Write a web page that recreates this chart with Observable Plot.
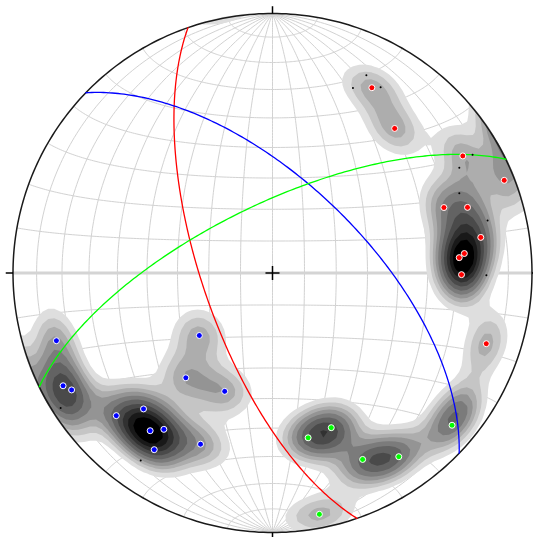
<!DOCTYPE html>
<html>
<head>
<meta charset="utf-8">
<script src="https://cdn.jsdelivr.net/npm/d3@7"></script>
<script src="https://cdn.jsdelivr.net/npm/@observablehq/plot@0.6"></script>
<style>
  html, body { margin: 0; padding: 0; background: #fff; }
  #chart { width: 533px; height: 537px; }
</style>
</head>
<body>
<div id="chart"></div>
<script>
// ---------- data (lower hemisphere, [trend°, plunge°]) ----------
const redPoles = [[28.2,20.1],[40.2,27.9],[58.4,15.0],[68.2,4.3],[69.1,30.0],[71.4,21.8],
                  [80.3,19.7],[84.2,26.6],[85.3,28.6],[90.5,28.0],[108.3,14.3]];
const bluePoles = [[252.6,13.8],[229.5,59.6],[219.6,46.5],[202.0,49.3],[241.7,9.2],[239.8,11.4],
                   [227.6,19.6],[223.5,28.6],[217.8,24.1],[214.8,27.5],[213.8,19.2],[202.8,29.2]];
const greenPoles = [[167.8,35.3],[159.2,36.4],[154.2,21.3],[145.5,15.2],[130.3,10.2],[169.0,5.9]];
const blackDots = [[23.5,23.3],[30.2,18.3],[25.4,16.8],[59.4,11.4],[60.6,18.5],[66.9,22.8],
                   [76.3,15.8],[90.6,18.7],[237.5,3.6],[215.1,12.7],[219.4,20.9]];
const densityCores = [[161.5,34.9],[150.1,17.9],[126.9,12.8],[219.4,20.9],[237.5,3.6],[86.8,27.9]];
// planes: [set, dip direction°, dip°]
const planes = [["red",251,68],["blue",44,61.5],["green",334,68.5]];
const compass = [0, 90, 180, 270];        // tick azimuths on the primitive
const gridStep = 10;                       // net spacing in degrees
const levels = [0.4, 0.65, 0.9, 1.15, 1.45, 1.8, 2.2, 2.6, 3.0, 3.4];

// ---------- styles ----------
const setColor = {red: "#ff0000", blue: "#0000ff", green: "#00ff00"};
const W = 533, H = 537, cx = 272, cy = 272.5, R = 259.5;

// ---------- equal-area (Schmidt) projection helpers ----------
const rad = Math.PI / 180;
function proj(east, north, down) {         // unit sphere vector -> unit disk
  const k = 1 / Math.sqrt(1 + down);
  return [east * k, north * k];
}
function vecTP(t, p) {
  return [Math.cos(p*rad)*Math.sin(t*rad), Math.cos(p*rad)*Math.cos(t*rad), Math.sin(p*rad)];
}
function lineXY(t, p) { const v = vecTP(t, p); return proj(v[0], v[1], v[2]); }
function lonlatXY(lon, lat) {
  const e = Math.cos(lat*rad)*Math.sin(lon*rad), n = Math.sin(lat*rad), d = Math.cos(lat*rad)*Math.cos(lon*rad);
  return proj(e, n, Math.max(d, 0));
}

// net grid
const grid = [], equator = [];
for (let lon = -90 + gridStep; lon < 90; lon += gridStep)
  for (let lat = -90; lat <= 90; lat += 1) { const [x, y] = lonlatXY(lon, lat); grid.push({id: "m" + lon, x, y}); }
for (let lat = -90 + gridStep; lat < 90; lat += gridStep) {
  if (lat === 0) continue;
  for (let lon = -90; lon <= 90; lon += 1) { const [x, y] = lonlatXY(lon, lat); grid.push({id: "p" + lat, x, y}); }
}
for (let lon = -90; lon <= 90; lon += 1) { const [x, y] = lonlatXY(lon, 0); equator.push({x, y}); }

// primitive circle & mask ring
const circle = d3.range(0, 361, 1).map(a => ({a}));
const ringW = 150, ringR = 1 + (ringW / 2) / R + 0.004;

// great circles
const gc = [];
for (const [set, dd, dip] of planes) {
  const s = vecTP(dd - 90, 0), d = vecTP(dd, dip);
  for (let t = 0; t <= 180; t += 1) {
    const c = Math.cos(t*rad), sn = Math.sin(t*rad);
    const v = [c*s[0] + sn*d[0], c*s[1] + sn*d[1], c*s[2] + sn*d[2]];
    const [x, y] = proj(v[0], v[1], Math.max(v[2], 0));
    gc.push({set, x, y});
  }
}

const poles = [
  ...redPoles.map(([t, p]) => ({set: "red", t, p})),
  ...bluePoles.map(([t, p]) => ({set: "blue", t, p})),
  ...greenPoles.map(([t, p]) => ({set: "green", t, p}))
].map(d => { const [x, y] = lineXY(d.t, d.p); return {...d, x, y}; });
const dots = blackDots.map(([t, p]) => { const [x, y] = lineXY(t, p); return {x, y}; });

// spherical (exponential Kamb-like) density
const densVecs = [...poles.map(d => vecTP(d.t, d.p)), ...densityCores.map(([t, p]) => vecTP(t, p))];
const kappa = 95;
function density(x, y) {
  let r2 = x*x + y*y; if (r2 > 1.999) r2 = 1.999;
  const cosc = 1 - r2, sinc = Math.sqrt(Math.max(0, 1 - cosc*cosc)), r = Math.sqrt(r2) || 1e-9;
  const vx = sinc * x / r, vy = sinc * y / r, vz = cosc;
  let s = 0;
  for (const p of densVecs) s += Math.exp(kappa * (Math.abs(vx*p[0] + vy*p[1] + vz*p[2]) - 1));
  return s;
}
const greys = levels.map((_, i) => d3.rgb(...Array(3).fill(Math.round(222 * (1 - i / (levels.length - 1))))).formatHex());

const plot = Plot.plot({
  width: W, height: H,
  marginLeft: cx - R, marginRight: W - (cx + R), marginTop: cy - R, marginBottom: H - (cy + R),
  x: {domain: [-1, 1], axis: null},
  y: {domain: [-1, 1], axis: null},
  color: {type: "linear", domain: levels, range: greys, clamp: true},
  marks: [
    Plot.line(grid, {x: "x", y: "y", z: "id", stroke: "#d2d2d2", strokeWidth: 1}),
    Plot.line(equator, {x: "x", y: "y", stroke: "#d4d4d4", strokeWidth: 3}),
    Plot.contour({x1: -1.06, x2: 1.06, y1: -1.06, y2: 1.06, fill: density, thresholds: levels, pixelSize: 6, stroke: "none"}),
    Plot.line(circle, {x: d => ringR*Math.sin(d.a*rad), y: d => ringR*Math.cos(d.a*rad), stroke: "white", strokeWidth: ringW}),
    Plot.line(circle, {x: d => Math.sin(d.a*rad), y: d => Math.cos(d.a*rad), stroke: "#1a1a1a", strokeWidth: 1.5}),
    Plot.link(compass, {x1: a => Math.sin(a*rad), y1: a => Math.cos(a*rad),
                        x2: a => 1.028*Math.sin(a*rad), y2: a => 1.028*Math.cos(a*rad), stroke: "black", strokeWidth: 1.5}),
    Plot.line(gc, {x: "x", y: "y", z: "set", stroke: d => setColor[d.set], strokeWidth: 1.3}),
    Plot.dot(dots, {x: "x", y: "y", r: 1, fill: "black"}),
    Plot.dot(poles, {x: "x", y: "y", r: 3, fill: d => setColor[d.set], stroke: "white", strokeWidth: 1}),
    Plot.dot([{x: 0, y: 0}], {x: "x", y: "y", symbol: "plus", r: 4.6, stroke: "black", strokeWidth: 1.5})
  ]
});
document.getElementById("chart").appendChild(plot);
</script>
</body>
</html>
